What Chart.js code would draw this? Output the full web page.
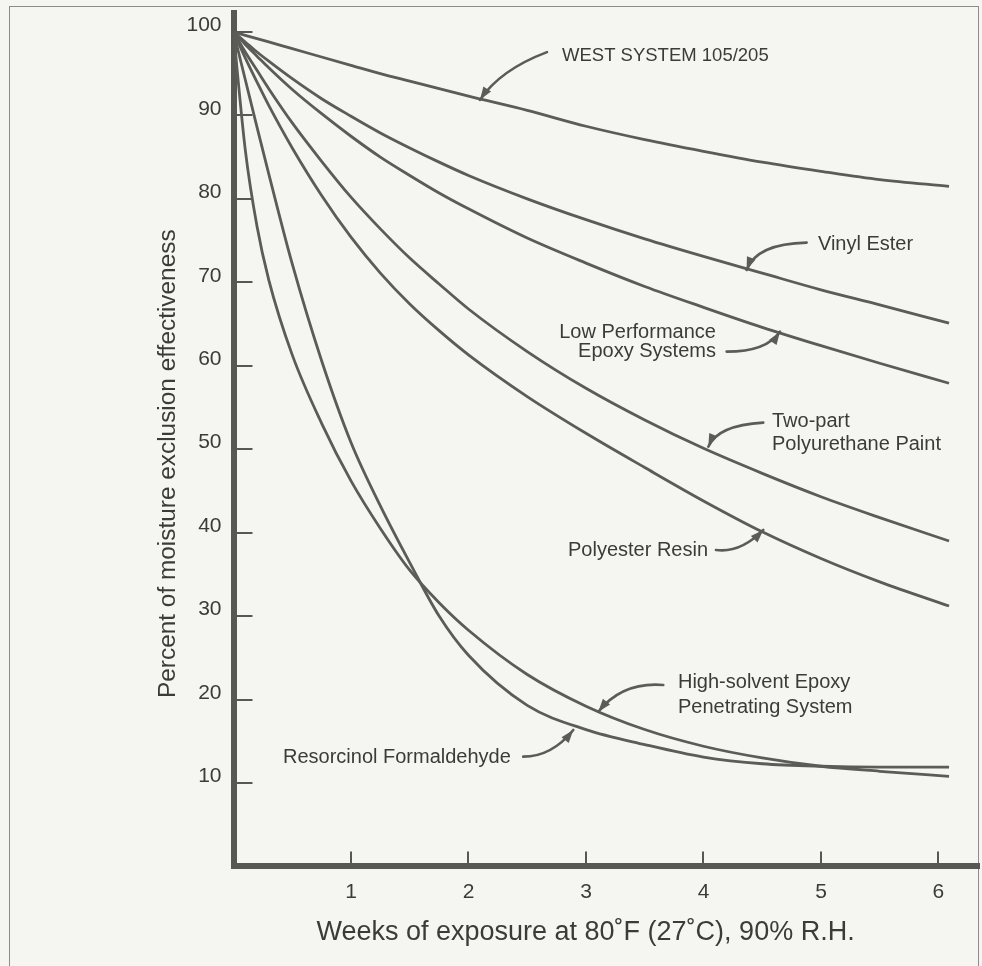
<!DOCTYPE html>
<html><head><meta charset="utf-8">
<script src="https://cdn.jsdelivr.net/npm/chart.js@4.4.1/dist/chart.umd.min.js"></script>
<style>
html,body{margin:0;padding:0;background:#f5f5f1;width:982px;height:966px;overflow:hidden;}
#frame{position:absolute;left:9px;top:6px;width:970px;height:1000px;border:1.5px solid #8c8c88;box-sizing:border-box;}
#c{position:absolute;left:0;top:0;}
</style></head><body>
<div id="frame"></div>
<canvas id="c" width="982" height="966" style="width:982px;height:966px"></canvas>
<script>
// ---- data ----
const weeks = [0, 0.1, 0.2, 0.3, 0.5, 0.75, 1, 1.25, 1.5, 1.75, 2, 2.5, 3, 3.5, 4, 4.5, 5, 5.5, 6.09];
const westSystem =             [100, 99.6, 99.2, 98.8, 98.0, 97.0, 96.0, 95.0, 94.1, 93.2, 92.3, 90.6, 88.7, 87.1, 85.7, 84.4, 83.3, 82.3, 81.5];
const vinylEster =             [100, 98.8, 97.6, 96.5, 94.4, 92.0, 89.9, 87.9, 86.1, 84.4, 82.8, 80.0, 77.5, 75.2, 73.1, 71.1, 69.1, 67.3, 65.1];
const lowPerfEpoxy =           [100, 98.5, 97.1, 95.7, 93.1, 90.2, 87.5, 85.0, 82.8, 80.7, 78.8, 75.3, 72.3, 69.5, 67.0, 64.6, 62.4, 60.3, 57.9];
const twoPartPolyurethane =    [100, 97.6, 95.4, 93.2, 89.1, 84.5, 80.2, 76.4, 72.9, 69.8, 66.8, 61.7, 57.3, 53.5, 50.1, 47.1, 44.3, 41.8, 39.0];
const polyesterResin =         [100, 96.9, 94.0, 91.2, 86.1, 80.4, 75.4, 71.1, 67.4, 64.2, 61.3, 56.3, 51.9, 47.8, 43.8, 40.1, 36.9, 34.1, 31.2];
const highSolventEpoxy =       [100, 85.9, 76.7, 70.3, 61.3, 53.1, 46.2, 40.5, 35.5, 31.6, 28.3, 23.0, 19.2, 16.4, 14.4, 13.0, 12.0, 11.4, 10.8];
const resorcinolFormaldehyde = [100, 94.3, 88.6, 83.0, 72.2, 60.6, 50.8, 43.2, 36.4, 30.0, 25.3, 19.3, 16.4, 14.6, 13.1, 12.3, 12.0, 11.9, 11.9];
const seriesNames = ['WEST SYSTEM 105/205', 'Vinyl Ester', 'Low Performance Epoxy Systems', 'Two-part Polyurethane Paint', 'Polyester Resin', 'High-solvent Epoxy Penetrating System', 'Resorcinol Formaldehyde'];
const xTickValues = [1, 2, 3, 4, 5, 6];
const yTickValues = [10, 20, 30, 40, 50, 60, 70, 80, 90, 100];
const xTitle = 'Weeks of exposure at 80˚F (27˚C), 90% R.H.';
const yTitle = 'Percent of moisture exclusion effectiveness';

// ---- callout labels (anchored in data units) ----
const notes = [
  {lines: ['WEST SYSTEM 105/205'], at: [2.796, 97.17], align: 'left', from: [2.668, 97.58], via: [2.268, 95.45], to: [2.098, 91.86]},
  {lines: ['Vinyl Ester'], at: [4.974, 74.53], align: 'left', from: [4.878, 74.75], via: [4.453, 74.63], to: [4.367, 71.48]},
  {lines: ['Low Performance', 'Epoxy Systems'], at: [4.106, 63.99], align: 'right', from: [4.197, 61.69], via: [4.537, 61.69], to: [4.651, 64.08]},
  {lines: ['Two-part', 'Polyurethane Paint'], at: [4.583, 53.32], align: 'left', from: [4.509, 53.18], via: [4.120, 52.86], to: [4.041, 50.30]},
  {lines: ['Polyester Resin'], at: [2.847, 37.86], align: 'left', from: [4.106, 37.92], via: [4.314, 37.51], to: [4.509, 40.32]},
  {lines: ['High-solvent Epoxy', 'Penetrating System'], at: [3.783, 22.04], align: 'left', from: [3.658, 21.74], via: [3.311, 22.14], to: [3.105, 18.54]},
  {lines: ['Resorcinol Formaldehyde'], at: [0.421, 13.11], align: 'left', from: [2.466, 13.15], via: [2.708, 13.15], to: [2.892, 16.35]}
];
const noteStyle = [
  {size: 18.5, gap: 20}, {size: 20, gap: 20}, {size: 20, gap: 19}, {size: 20, gap: 23},
  {size: 20, gap: 20}, {size: 20, gap: 25}, {size: 20, gap: 20}
];

// ---- styling ----
const FONT = "'Liberation Sans', Arial, Helvetica, sans-serif";
const INK = '#3b3b39';
const LINE = '#5b5b57';
const AXIS = '#575753';
const titleShift = {x: -20.7, y: 24};

class ShiftTitleLinear extends Chart.LinearScale {
  drawTitle() {
    const s = titleShift[this.id] || 0;
    if (this.isHorizontal()) {
      const l = this.left, r = this.right;
      this.left = l + s; this.right = r + s;
      super.drawTitle();
      this.left = l; this.right = r;
    } else {
      const t = this.top, b = this.bottom;
      this.top = t + s; this.bottom = b + s;
      super.drawTitle();
      this.top = t; this.bottom = b;
    }
  }
}
ShiftTitleLinear.id = 'shiftLinear';
ShiftTitleLinear.defaults = Chart.LinearScale.defaults;
Chart.register(ShiftTitleLinear);

function noEdgePadding(s) {
  s.paddingTop = 0; s.paddingBottom = 0; s.paddingLeft = 0; s.paddingRight = 0;
}

const calloutPlugin = {
  id: 'callouts',
  afterDatasetsDraw(chart) {
    const {ctx, scales: {x, y}} = chart;
    ctx.save();
    notes.forEach((n, i) => {
      const st = noteStyle[i];
      ctx.font = st.size + 'px ' + FONT;
      ctx.fillStyle = INK;
      ctx.textAlign = n.align;
      ctx.textBaseline = 'middle';
      const lx = x.getPixelForValue(n.at[0]);
      const ly = y.getPixelForValue(n.at[1]);
      n.lines.forEach((t, k) => ctx.fillText(t, lx, ly + k * st.gap));
      const fx = x.getPixelForValue(n.from[0]), fy = y.getPixelForValue(n.from[1]);
      const vx = x.getPixelForValue(n.via[0]), vy = y.getPixelForValue(n.via[1]);
      const tx = x.getPixelForValue(n.to[0]), ty = y.getPixelForValue(n.to[1]);
      ctx.strokeStyle = LINE;
      ctx.lineWidth = 2.6;
      ctx.lineCap = 'round';
      ctx.beginPath();
      ctx.moveTo(fx, fy);
      ctx.quadraticCurveTo(vx, vy, tx, ty);
      ctx.stroke();
      const a = Math.atan2(ty - vy, tx - vx);
      const L = 13, W = 4.6;
      const bx = tx - L * Math.cos(a), by = ty - L * Math.sin(a);
      ctx.fillStyle = LINE;
      ctx.beginPath();
      ctx.moveTo(tx, ty);
      ctx.lineTo(bx - W * Math.sin(a), by + W * Math.cos(a));
      ctx.lineTo(bx + W * Math.sin(a), by - W * Math.cos(a));
      ctx.closePath();
      ctx.fill();
    });
    ctx.restore();
  }
};

const seriesValues = [westSystem, vinylEster, lowPerfEpoxy, twoPartPolyurethane, polyesterResin, highSolventEpoxy, resorcinolFormaldehyde];
const datasets = seriesValues.map((vals, i) => ({
  label: seriesNames[i],
  data: weeks.map((w, k) => ({x: w, y: vals[k]})),
  borderColor: LINE,
  borderWidth: 2.8,
  pointRadius: 0,
  fill: false,
  cubicInterpolationMode: 'monotone',
  clip: false
}));

const X_MAX = 6.345;
const Y_MAX = 102.27;

new Chart(document.getElementById('c'), {
  type: 'line',
  data: {datasets},
  plugins: [calloutPlugin],
  options: {
    responsive: false,
    animation: false,
    events: [],
    layout: {padding: {top: 13, right: 3, left: 0, bottom: 0}},
    plugins: {legend: {display: false}, tooltip: {enabled: false}, title: {display: false}},
    scales: {
      x: {
        type: 'shiftLinear',
        position: 'bottom',
        min: 0, max: X_MAX,
        afterBuildTicks: s => { s.ticks = xTickValues.map(v => ({value: v})); },
        afterFit: s => { s.height = 99.6; noEdgePadding(s); },
        grid: {drawOnChartArea: false, drawTicks: true, tickLength: -15, color: AXIS, lineWidth: 2},
        border: {display: true, color: AXIS, width: 6},
        ticks: {color: INK, font: {family: FONT, size: 21}, padding: 28.6, maxRotation: 0, autoSkip: false},
        title: {display: true, text: xTitle, color: INK, font: {family: FONT, size: 27}, padding: {top: 0, bottom: 17.4}}
      },
      y: {
        type: 'shiftLinear',
        position: 'left',
        min: 0, max: Y_MAX,
        afterBuildTicks: s => { s.ticks = yTickValues.map(v => ({value: v})); },
        afterFit: s => { s.width = 233.5; noEdgePadding(s); },
        grid: {drawOnChartArea: false, drawTicks: true, tickLength: -19, color: AXIS, lineWidth: 2},
        border: {display: true, color: AXIS, width: 6},
        ticks: {color: INK, font: {family: FONT, size: 21}, padding: 31, labelOffset: -6.5, autoSkip: false},
        title: {display: true, text: yTitle, color: INK, font: {family: FONT, size: 24.4}, padding: {top: 153.2, bottom: 0}}
      }
    }
  }
});
</script>
</body></html>
